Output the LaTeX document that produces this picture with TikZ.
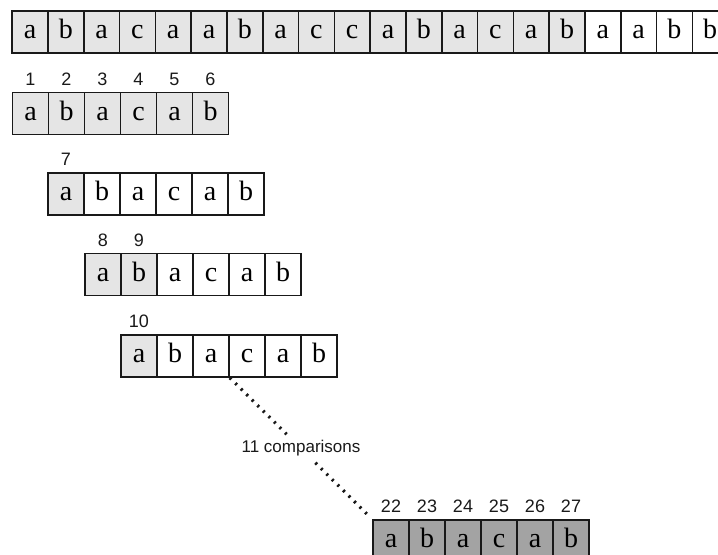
\documentclass[tikz,border=0pt]{standalone}
\usepackage{fontspec}
\setmainfont{Liberation Serif}
\setsansfont{Liberation Sans}
\usepackage{tikz}
\usetikzlibrary{positioning,calc}
\definecolor{ScanInk}{gray}{0.1}
\definecolor{ScanSeen}{gray}{0.9}
\definecolor{ScanHit}{gray}{0.64}

\begin{document}
\begin{tikzpicture}[
  x=0.5pt, y=-0.5pt,
  cell/.style={draw=ScanInk, line width=0.8pt, minimum width=18pt, minimum height=21pt, inner sep=0pt, text height=1.5ex, text depth=0pt, font=\fontsize{14}{16}\selectfont},
  seen/.style={cell, fill=ScanSeen},
  hit/.style={cell, fill=ScanHit},
  num/.style={font=\fontsize{9}{10}\sffamily, text=ScanInk, inner sep=3pt},
  dots/.style={draw=ScanInk, line width=1.6pt, dash pattern=on 1.1pt off 2.8pt, shorten >=2pt}
]
\clip (0,0) rectangle (718,555);
\foreach \ch/\st [count=\i] in {a/seen,b/seen,a/seen,c/seen,a/seen,a/seen,b/seen,a/seen,c/seen,c/seen,a/seen,b/seen,a/seen,c/seen,a/seen,b/seen,a/cell,a/cell,b/cell,b/cell}{
  \node[\st, minimum width=17.9pt] (t\i) at ({30+(\i-1)*35.8}, 32) {\ch};
}
\foreach \r/\xs/\ys/\n/\first/\st in {1/30.5/113.5/6/1/seen, 2/66/194/1/7/seen, 3/103/274.5/2/8/seen, 4/139/356/1/10/seen, 5/391/541/6/22/hit}{
  \foreach \ch [count=\k] in {a,b,a,c,a,b}{
    \pgfmathtruncatemacro{\pos}{\first+\k-1}
    \ifnum\k>\n
      \node[cell] (r\r-\k) at ({\xs+(\k-1)*36}, \ys) {\ch};
    \else
      \node[\st, label={[num]above:\pos}] (r\r-\k) at ({\xs+(\k-1)*36}, \ys) {\ch};
    \fi
  }
}
\node[font=\fontsize{8.5}{10}\sffamily, text=ScanInk, inner sep=3pt] (cmpnote) at ($(r4-3.south east)!0.5!(r5-1.north west)$) {11 comparisons};
\draw[dots] (r4-3.south east) -- (cmpnote) -- (r5-1.north west);
\end{tikzpicture}
\end{document}
